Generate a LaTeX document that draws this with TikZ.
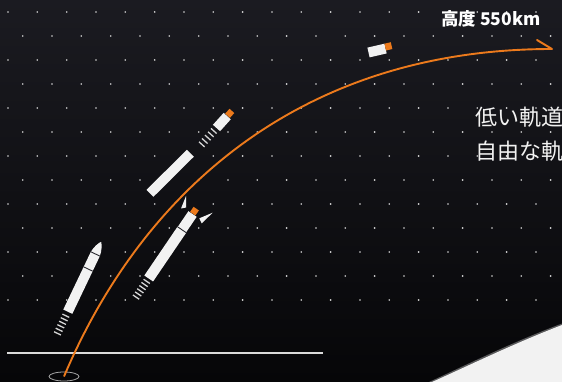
\documentclass[tikz,border=0pt]{standalone}
\usepackage{fontspec}
\newfontfamily\jpfont{Noto Sans CJK JP}
\definecolor{bgtop}{RGB}{27,27,33}
\definecolor{bgbot}{RGB}{6,6,8}
\definecolor{flame}{RGB}{236,122,28}
\definecolor{hull}{RGB}{242,242,242}
\definecolor{dotc}{RGB}{215,215,215}
\definecolor{seamc}{RGB}{40,40,46}
\begin{document}
\begin{tikzpicture}[x=1pt,y=-1pt,
  hullpart/.style={fill=hull},
  capbox/.style={fill=flame},
  seam/.style={draw=seamc, line width=0.9pt},
  exhaust/.style={draw=hull!88!black, line width=1.3pt},
  trajline/.style={draw=flame, line width=1.9pt},
  groundline/.style={draw=hull!90!black, line width=1.2pt},
  padring/.style={draw=hull!70!black, line width=0.8pt},
  label/.style={inner sep=0pt, anchor=base west}]
\useasboundingbox (0,0) rectangle (562,382);
\clip (0,0) rectangle (562,382);
% night sky
\shade[top color=bgtop, bottom color=bgbot] (0,0) rectangle (562,382);
% star grid, staggered rows
\foreach \j in {0,...,12} {
  \pgfmathsetmacro\off{mod(\j,2)==0 ? 8 : 22.67}
  \foreach \k in {0,...,18}
    \fill[dotc] (\off+29.33*\k, 12+24*\j) circle[radius=0.9];
}
% limb of the earth, with a soft rim
\fill[hull, opacity=0.35] (429,382) .. controls (468,364) and (514,341.5) .. (562,323.5) -- (562,382) -- cycle;
\fill[hull] (432,382) .. controls (470,365) and (515,343) .. (562,325) -- (562,382) -- cycle;
% launch site
\coordinate (gl) at (7,353);
\coordinate (gr) at (323,353);
\draw[groundline] (gl) -- (gr);
\coordinate (pad) at (64,376.5);
\draw[padring] (pad) ellipse [x radius=15, y radius=4.5];
% flight path up to orbit
\coordinate (orbit) at (552,49);
\coordinate (barb) at (537,40);
\draw[trajline] (pad) .. controls (142,192) and (300,49) .. (orbit);
\draw[trajline, line cap=round] (barb) -- (orbit);
% lift-off
\begin{scope}[shift={(67.8,311.7)}, rotate=64.5]
  \fill[hullpart] (0,-5) rectangle (64,5);
  \fill[hullpart] (64,-5) .. controls (70,-4.4) and (75,-2) .. (77.5,0)
     .. controls (75,2) and (70,4.4) .. (64,5) -- cycle;
  \draw[seam] (47.3,-5.2) -- (47.3,5.2);
  \draw[seam] (64,-5.2) -- (64,5.2);
  \foreach \s in {0,...,5} \draw[exhaust] (-4.5-3.9*\s,-3.8) -- (-4.5-3.9*\s,3.8);
\end{scope}
% fairing jettison
\begin{scope}[shift={(148.7,278.5)}, rotate=55.8]
  \fill[hullpart] (0,-5.3) rectangle (59,5.3);
  \fill[hullpart] (59,-5) rectangle (78,5);
  \fill[capbox] (78.4,-3.2) rectangle (84.5,3.2);
  \draw[seam] (59,-5.5) -- (59,5.5);
  \foreach \s in {0,...,5} \draw[exhaust] (-3.5-3.8*\s,-3.8) -- (-3.5-3.8*\s,3.8);
\end{scope}
\fill[hullpart] (186,196) -- (181,208.5) -- (186,207.5) -- cycle;
\fill[hullpart] (212.7,212.7) -- (199.3,218.3) -- (201.7,223.3) -- cycle;
% stage separation
\begin{scope}[shift={(150,193.3)}, rotate=44.8]
  \fill[hullpart] (0,-4.9) rectangle (56.8,4.9);
\end{scope}
\begin{scope}[shift={(216.5,128)}, rotate=48]
  \fill[hullpart] (0,-4.8) rectangle (16,4.8);
  \fill[capbox] (16.5,-3.2) rectangle (23,3.2);
  \foreach \s in {0,...,4} \draw[exhaust] (-4-4.5*\s,-3.8) -- (-4-4.5*\s,3.8);
\end{scope}
% satellite in orbit
\begin{scope}[shift={(368.5,52.5)}, rotate=13]
  \fill[hullpart] (0,-5) rectangle (17.5,5);
  \fill[capbox] (17.5,-5) rectangle (24,2);
\end{scope}
% labels
\node[label, text=white, font=\jpfont\bfseries\fontsize{17.5}{21}\selectfont] (alt) at (441,26) {高度 550km};
\node[label, text=hull, font=\jpfont\fontsize{22}{26}\selectfont] (l1) at (475,126) {低い軌道};
\node[label, text=hull, font=\jpfont\fontsize{22}{26}\selectfont] (l2) at (475,159.5) {自由な軌};
\end{tikzpicture}
\end{document}
